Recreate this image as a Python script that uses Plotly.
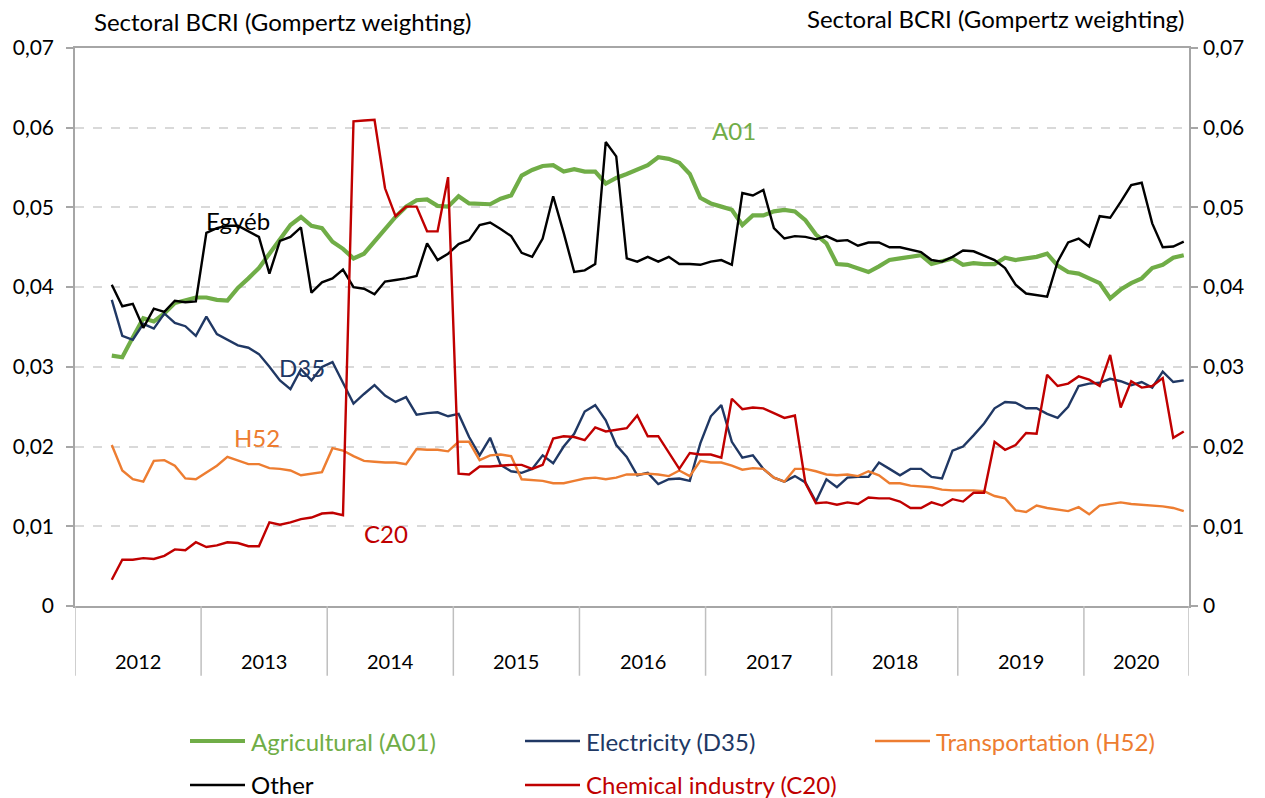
import plotly.graph_objects as go

# Monthly observations, April 2012 .. October 2020
years = ["2012", "2013", "2014", "2015", "2016", "2017", "2018", "2019", "2020"]
months_in_year = [12, 12, 12, 12, 12, 12, 12, 12, 10]
first_month = 3  # data begins in April 2012

a01 = [0.0314, 0.0312, 0.0337, 0.0361, 0.0357, 0.0367, 0.0380, 0.0384, 0.0387, 0.0387, 0.0384, 0.0383, 0.0399, 0.0411, 0.0424, 0.0442,
       0.0459, 0.0478, 0.0488, 0.0477, 0.0474, 0.0457, 0.0448, 0.0436, 0.0442, 0.0457, 0.0472, 0.0488, 0.0501, 0.0509, 0.0510, 0.0502, 0.0501, 0.0514,
       0.0505, 0.0504, 0.0504, 0.0511, 0.0515, 0.0540, 0.0547, 0.0552, 0.0553, 0.0545, 0.0548, 0.0545, 0.0545, 0.0530, 0.0537, 0.0542, 0.0547, 0.0553,
       0.0563, 0.0561, 0.0556, 0.0542, 0.0512, 0.0505, 0.0501, 0.0497, 0.0478, 0.0490, 0.0490, 0.0495, 0.0497, 0.0495, 0.0484, 0.0466, 0.0455, 0.0429,
       0.0428, 0.0424, 0.0419, 0.0426, 0.0434, 0.0436, 0.0438, 0.0440, 0.0429, 0.0432, 0.0436, 0.0428, 0.0430, 0.0429, 0.0429, 0.0437, 0.0434, 0.0436,
       0.0438, 0.0442, 0.0427, 0.0419, 0.0417, 0.0411, 0.0405, 0.0386, 0.0397, 0.0405, 0.0411, 0.0424, 0.0428, 0.0437, 0.0440]

d35 = [0.0384, 0.0339, 0.0334, 0.0354, 0.0348, 0.0367, 0.0355, 0.0351, 0.0339, 0.0363, 0.0341, 0.0334, 0.0327, 0.0324, 0.0316, 0.0300,
       0.0283, 0.0272, 0.0297, 0.0283, 0.0300, 0.0306, 0.0279, 0.0254, 0.0266, 0.0277, 0.0264, 0.0256, 0.0262, 0.0240, 0.0242, 0.0243, 0.0238, 0.0241,
       0.0212, 0.0189, 0.0211, 0.0177, 0.0169, 0.0167, 0.0172, 0.0189, 0.0179, 0.0200, 0.0216, 0.0244, 0.0252, 0.0233, 0.0202, 0.0187, 0.0164, 0.0167,
       0.0153, 0.0159, 0.0160, 0.0157, 0.0204, 0.0238, 0.0252, 0.0206, 0.0186, 0.0189, 0.0172, 0.0161, 0.0156, 0.0163, 0.0155, 0.0131, 0.0159, 0.0149,
       0.0161, 0.0162, 0.0162, 0.0180, 0.0172, 0.0164, 0.0172, 0.0172, 0.0162, 0.0160, 0.0195, 0.0200, 0.0214, 0.0229, 0.0248, 0.0256, 0.0255, 0.0248,
       0.0248, 0.0241, 0.0236, 0.0250, 0.0276, 0.0279, 0.0280, 0.0285, 0.0282, 0.0277, 0.0281, 0.0274, 0.0294, 0.0281, 0.0283]

h52 = [0.0202, 0.0170, 0.0159, 0.0156, 0.0182, 0.0183, 0.0176, 0.0160, 0.0159, 0.0168, 0.0176, 0.0187, 0.0182, 0.0178, 0.0178, 0.0173,
       0.0172, 0.0170, 0.0164, 0.0166, 0.0168, 0.0198, 0.0195, 0.0188, 0.0182, 0.0181, 0.0180, 0.0180, 0.0178, 0.0197, 0.0196, 0.0196, 0.0194, 0.0206,
       0.0206, 0.0183, 0.0189, 0.0190, 0.0188, 0.0159, 0.0158, 0.0157, 0.0154, 0.0154, 0.0157, 0.0160, 0.0161, 0.0159, 0.0161, 0.0165, 0.0165, 0.0166,
       0.0165, 0.0163, 0.0170, 0.0163, 0.0182, 0.0180, 0.0180, 0.0176, 0.0171, 0.0173, 0.0172, 0.0161, 0.0156, 0.0172, 0.0172, 0.0169, 0.0165, 0.0164,
       0.0165, 0.0163, 0.0169, 0.0164, 0.0154, 0.0154, 0.0151, 0.0150, 0.0149, 0.0146, 0.0145, 0.0145, 0.0145, 0.0144, 0.0138, 0.0135, 0.0120, 0.0118,
       0.0126, 0.0123, 0.0121, 0.0119, 0.0124, 0.0115, 0.0126, 0.0128, 0.0130, 0.0128, 0.0127, 0.0126, 0.0125, 0.0123, 0.0119]

other = [0.0403, 0.0376, 0.0379, 0.0349, 0.0373, 0.0369, 0.0383, 0.0381, 0.0382, 0.0468, 0.0474, 0.0477, 0.0477, 0.0470, 0.0463, 0.0417,
         0.0458, 0.0463, 0.0475, 0.0393, 0.0406, 0.0411, 0.0422, 0.0400, 0.0398, 0.0391, 0.0407, 0.0409, 0.0411, 0.0414, 0.0455, 0.0434, 0.0442, 0.0454,
         0.0459, 0.0478, 0.0481, 0.0473, 0.0464, 0.0443, 0.0438, 0.0461, 0.0514, 0.0468, 0.0419, 0.0421, 0.0429, 0.0582, 0.0564, 0.0436, 0.0432, 0.0438,
         0.0432, 0.0438, 0.0429, 0.0429, 0.0428, 0.0432, 0.0434, 0.0428, 0.0518, 0.0515, 0.0522, 0.0474, 0.0461, 0.0464, 0.0463, 0.0460, 0.0464, 0.0458,
         0.0459, 0.0452, 0.0456, 0.0456, 0.0450, 0.0450, 0.0447, 0.0444, 0.0434, 0.0432, 0.0438, 0.0446, 0.0445, 0.0440, 0.0434, 0.0424, 0.0403, 0.0392,
         0.0390, 0.0388, 0.0432, 0.0456, 0.0461, 0.0451, 0.0489, 0.0487, 0.0507, 0.0528, 0.0531, 0.0480, 0.0450, 0.0451, 0.0457]

c20 = [0.0033, 0.0058, 0.0058, 0.0060, 0.0059, 0.0063, 0.0071, 0.0070, 0.0080, 0.0074, 0.0076, 0.0080, 0.0079, 0.0075, 0.0075, 0.0105,
       0.0102, 0.0105, 0.0109, 0.0111, 0.0116, 0.0117, 0.0114, 0.0608, 0.0609, 0.0610, 0.0524, 0.0489, 0.0501, 0.0501, 0.0470, 0.0470, 0.0538, 0.0166,
       0.0165, 0.0175, 0.0175, 0.0176, 0.0177, 0.0177, 0.0172, 0.0177, 0.0210, 0.0213, 0.0212, 0.0208, 0.0224, 0.0219, 0.0221, 0.0223, 0.0239, 0.0213,
       0.0213, 0.0193, 0.0172, 0.0192, 0.0190, 0.0190, 0.0186, 0.0260, 0.0247, 0.0249, 0.0248, 0.0242, 0.0236, 0.0239, 0.0154, 0.0129, 0.0130, 0.0127,
       0.0130, 0.0128, 0.0136, 0.0135, 0.0135, 0.0131, 0.0123, 0.0123, 0.0130, 0.0126, 0.0134, 0.0131, 0.0142, 0.0142, 0.0206, 0.0196, 0.0202, 0.0217,
       0.0216, 0.0290, 0.0276, 0.0279, 0.0288, 0.0284, 0.0276, 0.0315, 0.0249, 0.0282, 0.0274, 0.0276, 0.0286, 0.0211, 0.0219]

y_ticks = [0, 0.01, 0.02, 0.03, 0.04, 0.05, 0.06, 0.07]
y_tick_labels = ["0", "0,01", "0,02", "0,03", "0,04", "0,05", "0,06", "0,07"]

series = [
    ("Agricultural (A01)", a01, "#70ad47", 4.2),
    ("Electricity (D35)", d35, "#203864", 2.4),
    ("Transportation (H52)", h52, "#ed7d31", 2.4),
    ("Other", other, "#000000", 2.4),
    ("Chemical industry (C20)", c20, "#c00000", 2.4),
]

FONT = "Lato"
AXIS_GREY = "#a6a6a6"
n_slots = sum(months_in_year)
x_pos = [first_month + k + 0.5 for k in range(len(a01))]

fig = go.Figure()
for name, vals, color, width in series:
    fig.add_trace(go.Scatter(x=x_pos, y=vals, mode="lines", name=name,
                             line=dict(color=color, width=width), showlegend=False))
# invisible trace that carries the right-hand axis
fig.add_trace(go.Scatter(x=[0], y=[0], yaxis="y2", mode="markers",
                         marker=dict(opacity=0), showlegend=False, hoverinfo="skip"))

shapes = []
annotations = []

# year group separators and labels under the category axis
bounds = [0]
for m in months_in_year:
    bounds.append(bounds[-1] + m)
for b in bounds:
    shapes.append(dict(type="line", xref="x", yref="paper", x0=b, x1=b, y0=0, y1=-0.125,
                       line=dict(color="#bfbfbf", width=1.5)))
for yr, a, b in zip(years, bounds[:-1], bounds[1:]):
    annotations.append(dict(text=yr, xref="x", yref="paper", x=(a + b) / 2, y=-0.098,
                            showarrow=False, font=dict(family=FONT, size=20, color="#000000"),
                            xanchor="center", yanchor="middle"))

# axis titles
for txt, px, py, anchor in [("Sectoral BCRI (Gompertz weighting)", 92, 21, "left"),
                            ("Sectoral BCRI (Gompertz weighting)", 1186, 18, "right")]:
    annotations.append(dict(text=txt, xref="paper", yref="paper", x=(px - 75) / 1114,
                            y=(606 - py) / 558, showarrow=False, xanchor=anchor, yanchor="middle",
                            font=dict(family=FONT, size=24, color="#000000")))

# series labels inside the plot
for txt, px, py, color in [("A01", 734, 130, "#70ad47"), ("Egyéb", 238, 220, "#000000"),
                           ("D35", 302, 367, "#203864"), ("H52", 257, 437, "#ed7d31"),
                           ("C20", 386, 533, "#c00000")]:
    annotations.append(dict(text=txt, xref="paper", yref="paper", x=(px - 75) / 1114,
                            y=(606 - py) / 558, showarrow=False, xanchor="center", yanchor="middle",
                            font=dict(family=FONT, size=24, color=color)))

# legend drawn as line samples with coloured labels
legend_spots = [(190, 741), (525, 741), (875, 741), (190, 785), (525, 785)]
text_colors = ["#70ad47", "#203864", "#ed7d31", "#000000", "#c00000"]
for (name, vals, color, width), (lx, ly), tc in zip(series, legend_spots, text_colors):
    y_p = (606 - ly) / 558
    shapes.append(dict(type="line", xref="paper", yref="paper",
                       x0=(lx - 75) / 1114, x1=(lx + 55 - 75) / 1114, y0=y_p, y1=y_p,
                       line=dict(color=color, width=width)))
    annotations.append(dict(text=name, xref="paper", yref="paper", x=(lx + 59 - 75) / 1114,
                            y=y_p, showarrow=False, xanchor="left", yanchor="middle",
                            font=dict(family=FONT, size=24, color=tc)))

axis_common = dict(range=[0, 0.07], tickvals=y_ticks, ticktext=y_tick_labels,
                   ticks="outside", ticklen=7, tickcolor=AXIS_GREY, tickwidth=1.5,
                   showline=True, linecolor=AXIS_GREY, linewidth=1.5, zeroline=False,
                   tickfont=dict(family=FONT, size=21, color="#000000"), fixedrange=True)

fig.update_layout(
    width=1265, height=798,
    margin=dict(l=75, r=76, t=48, b=192),
    paper_bgcolor="white", plot_bgcolor="white",
    xaxis=dict(range=[0, n_slots], showticklabels=False, showgrid=False, zeroline=False,
               showline=True, linecolor=AXIS_GREY, linewidth=1.5, mirror=True, ticks=""),
    yaxis=dict(**axis_common, showgrid=True, gridcolor="#d9d9d9", gridwidth=1.5,
               griddash="dash", ticklabelstandoff=8),
    yaxis2=dict(**axis_common, overlaying="y", side="right", showgrid=False,
                ticklabelstandoff=1),
    shapes=shapes,
    annotations=annotations,
    showlegend=False,
)

fig.write_html("out.html")
